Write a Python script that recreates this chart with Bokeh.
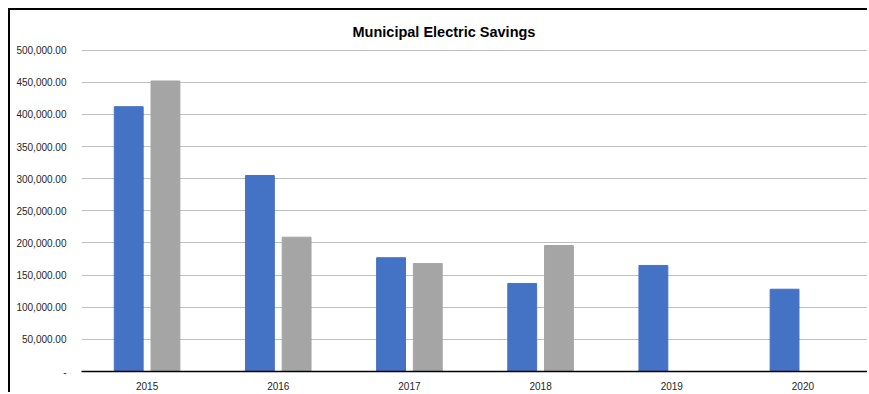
from bokeh.plotting import figure
from bokeh.models import FactorRange, Range1d, CustomJSTickFormatter, FixedTicker, ColumnDataSource
from bokeh.transform import dodge
from bokeh.embed import file_html
from bokeh.resources import INLINE

years = ["2015", "2016", "2017", "2018", "2019", "2020"]
series_blue = [412000, 305000, 177000, 137000, 165000, 128000]
years_gray = ["2015", "2016", "2017", "2018"]
series_gray = [452000, 209000, 168000, 196000]
y_ticks = [0, 50000, 100000, 150000, 200000, 250000, 300000, 350000, 400000, 450000, 500000]
chart_title = "Municipal Electric Savings"

src_blue = ColumnDataSource(dict(year=years, val=series_blue))
src_gray = ColumnDataSource(dict(year=years_gray, val=series_gray))

p = figure(x_range=FactorRange(*years, range_padding=0), y_range=Range1d(0, 501000),
           width=859, height=384, output_backend="svg", toolbar_location=None,
           min_border_left=71, min_border_right=1, min_border_top=39, min_border_bottom=23,
           title=chart_title,
           styles={"margin-left": "8px", "margin-top": "8px",
                   "border-top": "2px solid #000000", "border-left": "2px solid #000000"})

p.vbar(x=dodge("year", -0.14, range=p.x_range), top="val", width=0.22, source=src_blue,
       fill_color="#4472C4", line_color="#4472C4")
p.vbar(x=dodge("year", 0.14, range=p.x_range), top="val", width=0.22, source=src_gray,
       fill_color="#A5A5A5", line_color="#A5A5A5")

p.title.align = "left"
p.title.offset = 271
p.title.text_font = "Liberation Sans"
p.title.text_font_size = "14.5px"
p.title.text_font_style = "bold"
p.title.text_color = "#000000"
p.title.standoff = 20

p.outline_line_color = None
p.xgrid.grid_line_color = None
p.ygrid.grid_line_color = "#BFBFBF"
p.ygrid.grid_line_width = 1

p.yaxis.ticker = FixedTicker(ticks=y_ticks)
p.yaxis.formatter = CustomJSTickFormatter(code="""
if (tick == 0) { return "-"; }
return tick.toLocaleString('en-US', {minimumFractionDigits: 2, maximumFractionDigits: 2});
""")
p.yaxis.axis_line_color = None
p.yaxis.major_tick_line_color = None
p.yaxis.minor_tick_line_color = None
p.yaxis.major_label_standoff = 9
p.yaxis.major_label_text_font = "Liberation Sans"
p.yaxis.major_label_text_font_size = "10px"
p.yaxis.major_label_text_color = "#262626"

p.xaxis.axis_line_color = "#000000"
p.xaxis.axis_line_width = 1.5
p.xaxis.major_tick_line_color = None
p.xaxis.minor_tick_line_color = None
p.xaxis.major_label_standoff = 4
p.xaxis.major_label_text_font = "Liberation Sans"
p.xaxis.major_label_text_font_size = "10px"
p.xaxis.major_label_text_color = "#262626"

open("out.html", "w").write(file_html(p, INLINE))
